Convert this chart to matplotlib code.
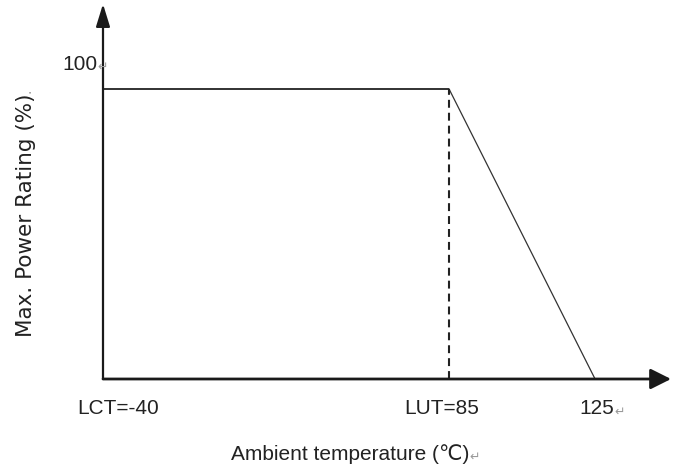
import numpy as np
import matplotlib
matplotlib.use("Agg")
import matplotlib.pyplot as plt

# ---- data ----
temps = [-40, 85, 125]          # LCT, LUT, max temperature
power = [100, 100, 0]           # max power rating (%)
x_labels = ["LCT=-40", "LUT=85", "125"]
y_label_val = "100"
x_title = "Ambient temperature (\u2103)"
y_title = "Max. Power Rating (%)"

# schematic (non-linear) temperature scale of the drawing
T_KNOTS = [-40, 85, 125, 165]
U_KNOTS = [0, 346, 492, 638]

def fwd(x):
    return np.interp(x, T_KNOTS, U_KNOTS)

def inv(u):
    return np.interp(u, U_KNOTS, T_KNOTS)

NARROW = ["Liberation Sans Narrow", "Liberation Sans", "DejaVu Sans"]
TXT = "#222222"
GRAY = "#9a9a9a"

fig = plt.figure(figsize=(6.83, 4.70), dpi=100)
fig.patch.set_facecolor("white")
W, H = 683, 470
ax = fig.add_axes([103 / W, (H - 379) / H, (671 - 103) / W, (379 - 4) / H])
ax.set_xscale("function", functions=(fwd, inv))
ax.set_xlim(-40, 145.8)
ax.set_ylim(0, 129.3)
ax.set_axis_off()

# axes with arrow heads
ax.annotate("", xy=(1, 0), xytext=(0, 0), xycoords="axes fraction",
            arrowprops=dict(arrowstyle="-|>,head_length=0.5,head_width=0.25",
                            lw=2.0, color="#1a1a1a", shrinkA=0, shrinkB=0,
                            mutation_scale=25),
            annotation_clip=False)
ax.annotate("", xy=(0, 1), xytext=(0, 0), xycoords="axes fraction",
            arrowprops=dict(arrowstyle="-|>,head_length=0.55,head_width=0.17",
                            lw=1.6, color="#1a1a1a", shrinkA=0, shrinkB=0,
                            mutation_scale=25),
            annotation_clip=False)

# curve
ax.plot(temps[:2], power[:2], color="#222222", lw=1.3, solid_capstyle="butt", clip_on=False)
ax.plot(temps[1:], power[1:], color="#333333", lw=0.9, clip_on=False)
ax.plot([temps[1], temps[1]], [0, power[1]], color="#222222", lw=1.5,
        ls=(0, (3.8, 2.4)), clip_on=False)

# label of the 100 % level
t100 = fig.text(97 / W, 1 - 64 / H, y_label_val, fontsize=15, family=NARROW,
                color=TXT, ha="right", va="center")
ax.annotate("\u21b5", xy=(1, 0.35), xycoords=t100, fontsize=9, color=GRAY,
            ha="left", va="center", family=["DejaVu Sans"])

# temperature labels
x_offsets = [15, -7, 2]
for i, lab in enumerate(x_labels):
    t = ax.annotate(lab, xy=(temps[i], 0), xycoords="data",
                    xytext=(x_offsets[i], -30), textcoords="offset pixels",
                    fontsize=15, family=NARROW, color=TXT, ha="center",
                    va="center", annotation_clip=False)
    if i == 2:
        ax.annotate("\u21b5", xy=(1, 0.35), xycoords=t, fontsize=9, color=GRAY,
                    ha="left", va="center", family=["DejaVu Sans"])

# axis titles
tx = fig.text(350 / W, 1 - 454 / H, x_title, fontsize=15, family=NARROW,
              color=TXT, ha="center", va="center")
ax.annotate("\u21b5", xy=(1, 0.35), xycoords=tx, fontsize=9, color=GRAY,
            ha="left", va="center", family=["DejaVu Sans"])
ty = fig.text(26 / W, 1 - 215 / H, y_title, fontsize=15.5,
              family=["DejaVu Sans"], color=TXT, ha="center", va="center",
              rotation=90)
ax.annotate("\u00b7", xy=(0.75, 1.0), xycoords=ty, fontsize=10, color=GRAY,
            ha="center", va="bottom", rotation=90, family=["DejaVu Sans"])

fig.savefig("out.png", dpi=100, facecolor="white")
